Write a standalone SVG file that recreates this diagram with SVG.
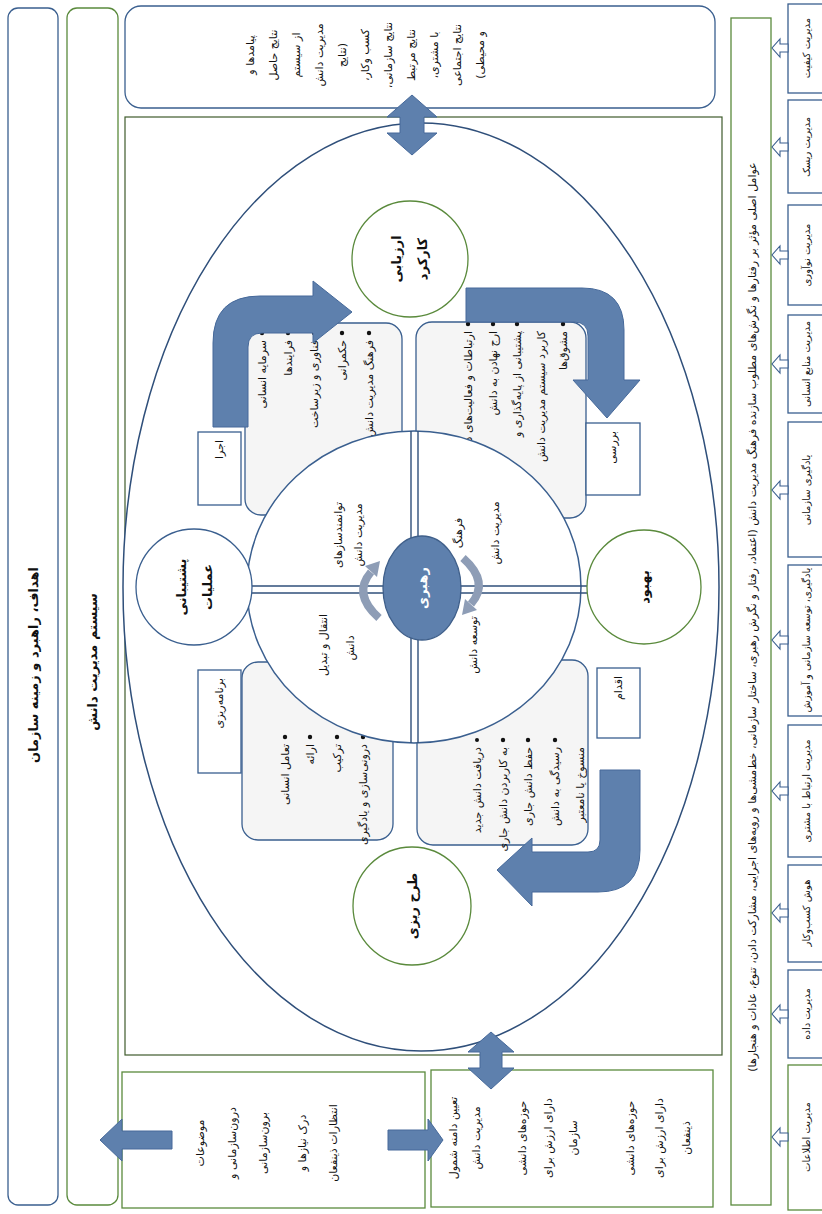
<svg xmlns="http://www.w3.org/2000/svg" width="822" height="1214" viewBox="0 0 822 1214">
<style>
.ft{font-family:"DejaVu Sans","Noto Sans",sans-serif;direction:rtl;dominant-baseline:central;fill:#111}
.b{font-weight:bold}
.bs{stroke:#3a5f8f;fill:#fff;stroke-width:1.3}
.gs{stroke:#5a8a3c;fill:#fff;stroke-width:1.3}
.qb{stroke:#3a5f8f;fill:#f5f5f5;stroke-width:1.3}
.arr{fill:#5e80ad;stroke:#46699a;stroke-width:1}
.gra{fill:none;stroke:#8e9db6;stroke-width:8}
.grh{fill:#8e9db6}
.dl{stroke:#2f4f7a;stroke-width:1.4}
.ch{fill:#fff;stroke:#3a5f8f;stroke-width:1.1}
.s11{font-size:11px}.s10{font-size:10px}.s12{font-size:12px}.s13{font-size:13px}
</style>
<rect width="822" height="1214" fill="#fff"/>

<g id="goals">
<rect x="8" y="8" width="50" height="1197" rx="10" class="bs"/>
<text class="ft b s13" transform="translate(33,665) rotate(-90)" text-anchor="middle">اهداف، راهبرد و زمینه سازمان</text>
</g>
<g id="kms">
<rect x="67" y="8" width="51" height="1197" rx="10" class="gs"/>
<text class="ft b s13" transform="translate(92,662) rotate(-90)" text-anchor="middle">سیستم مدیریت دانش</text>
</g>

<g id="outcomes">
<rect x="125" y="6" width="590" height="102" rx="16" class="bs"/>
<g class="ft s11" text-anchor="middle">
<text transform="translate(250,55) rotate(-90)">پیامدها و</text>
<text transform="translate(273,55) rotate(-90)">نتایج حاصل</text>
<text transform="translate(296,55) rotate(-90)">از سیستم</text>
<text transform="translate(319,55) rotate(-90)">مدیریت دانش</text>
<text transform="translate(342,55) rotate(-90)">(نتایج</text>
<text transform="translate(365,55) rotate(-90)">کسب وکار،</text>
<text transform="translate(388,55) rotate(-90)">نتایج سازمانی،</text>
<text transform="translate(411,55) rotate(-90)">نتایج مرتبط</text>
<text transform="translate(434,55) rotate(-90)">با مشتری،</text>
<text transform="translate(457,55) rotate(-90)">نتایج اجتماعی</text>
<text transform="translate(480,55) rotate(-90)">و محیطی)</text>
</g>
</g>

<g id="factors">
<rect x="731" y="18" width="40" height="1187" class="gs"/>
<text class="ft s11" transform="translate(752,617) rotate(-90)" text-anchor="middle">عوامل اصلی مؤثر بر رفتارها و نگرش‌های مطلوب سازنده فرهنگ مدیریت دانش (اعتماد، رفتار و نگرش رهبری، ساختار سازمانی، خط‌مشی‌ها و رویه‌های اجرایی، مشارکت دادن، تنوع، عادات و هنجارها)</text>
</g>

<g id="tools" class="ft s10" text-anchor="middle">
<g id="tool-quality"><rect x="788" y="4" width="40" height="89" class="bs"/><text transform="translate(806,48) rotate(-90)">مدیریت کیفیت</text></g>
<g id="tool-risk"><rect x="788" y="100" width="40" height="93" class="bs"/><text transform="translate(806,147) rotate(-90)">مدیریت ریسک</text></g>
<g id="tool-innovation"><rect x="788" y="205" width="40" height="100" class="bs"/><text transform="translate(806,255) rotate(-90)">مدیریت نوآوری</text></g>
<g id="tool-hr"><rect x="788" y="315" width="40" height="98" class="bs"/><text transform="translate(806,364) rotate(-90)">مدیریت منابع انسانی</text></g>
<g id="tool-ol"><rect x="788" y="422" width="40" height="135" class="bs"/><text transform="translate(806,490) rotate(-90)">یادگیری سازمانی</text></g>
<g id="tool-ld"><rect x="788" y="565" width="40" height="151" class="bs"/><text transform="translate(806,640) rotate(-90)">یادگیری، توسعه سازمانی و آموزش</text></g>
<g id="tool-crm"><rect x="788" y="725" width="40" height="132" class="bs"/><text transform="translate(806,791) rotate(-90)">مدیریت ارتباط با مشتری</text></g>
<g id="tool-bi"><rect x="788" y="865" width="40" height="97" class="bs"/><text transform="translate(806,913) rotate(-90)">هوش کسب‌وکار</text></g>
<g id="tool-data"><rect x="788" y="970" width="40" height="88" class="bs"/><text transform="translate(806,1014) rotate(-90)">مدیریت داده</text></g>
<g id="tool-info"><rect x="788" y="1065" width="40" height="145" class="gs"/><text transform="translate(806,1137) rotate(-90)">مدیریت اطلاعات</text></g>
</g>

<g id="inputs">
<rect x="122" y="1072" width="303" height="136" class="gs"/>
<g class="ft s11" text-anchor="middle">
<text transform="translate(200,1143) rotate(-90)">موضوعات</text>
<text transform="translate(232,1143) rotate(-90)">درون‌سازمانی و</text>
<text transform="translate(263,1143) rotate(-90)">برون‌سازمانی</text>
<text transform="translate(302,1143) rotate(-90)">درک نیازها و</text>
<text transform="translate(333,1143) rotate(-90)">انتظارات ذینفعان</text>
</g>
</g>

<g id="scope">
<rect x="431" y="1070" width="282" height="137" class="gs"/>
<g class="ft s11" text-anchor="middle">
<text transform="translate(453,1138) rotate(-90)">تعیین دامنه شمول</text>
<text transform="translate(476,1138) rotate(-90)">مدیریت دانش</text>
<text transform="translate(522,1138) rotate(-90)">حوزه‌های دانشی</text>
<text transform="translate(548,1138) rotate(-90)">دارای ارزش برای</text>
<text transform="translate(573,1138) rotate(-90)">سازمان</text>
<text transform="translate(630,1138) rotate(-90)">حوزه‌های دانشی</text>
<text transform="translate(659,1138) rotate(-90)">دارای ارزش برای</text>
<text transform="translate(686,1138) rotate(-90)">ذینفعان</text>
</g>
</g>

<g id="frame">
<rect x="125" y="117" width="597" height="938" fill="#fff" stroke="#3f5b2c" stroke-width="1.2"/>
<ellipse cx="421" cy="587" rx="298" ry="464" fill="#fff" stroke="#2f4f7a" stroke-width="1.5"/>
</g>

<g id="enablers-box">
<rect x="245" y="323" width="157" height="192" rx="16" class="qb"/>
<g fill="#111"><circle cx="262" cy="333" r="2.2"/><circle cx="288" cy="333" r="2.2"/><circle cx="314" cy="333" r="2.2"/><circle cx="342" cy="333" r="2.2"/><circle cx="369" cy="333" r="2.2"/></g>
<g class="ft s11" text-anchor="start">
<text transform="translate(262,340) rotate(-90)">سرمایه انسانی</text>
<text transform="translate(288,340) rotate(-90)">فرایندها</text>
<text transform="translate(314,340) rotate(-90)">فناوری و زیرساخت</text>
<text transform="translate(342,340) rotate(-90)">حکمرانی</text>
<text transform="translate(369,340) rotate(-90)">فرهنگ مدیریت دانش</text>
</g>
</g>

<g id="culture-box">
<rect x="416" y="322" width="170" height="196" rx="16" class="qb"/>
<g fill="#111"><circle cx="468" cy="324" r="2.2"/><circle cx="493" cy="324" r="2.2"/><circle cx="517" cy="324" r="2.2"/><circle cx="563" cy="324" r="2.2"/></g>
<g class="ft s11" text-anchor="start">
<text transform="translate(468,331) rotate(-90)">ارتباطات و فعالیت‌های دانش</text>
<text transform="translate(493,331) rotate(-90)">ارج نهادن به دانش</text>
<text transform="translate(517,331) rotate(-90)">پشتیبانی از پایه‌گذاری و</text>
<text transform="translate(541,331) rotate(-90)">کاربرد سیستم مدیریت دانش</text>
<text transform="translate(563,331) rotate(-90)">مشوق‌ها</text>
</g>
</g>

<g id="transfer-box">
<rect x="242" y="662" width="151" height="178" rx="16" class="qb"/>
<g fill="#111"><circle cx="285" cy="737" r="2.2"/><circle cx="310" cy="737" r="2.2"/><circle cx="337" cy="737" r="2.2"/><circle cx="363" cy="737" r="2.2"/></g>
<g class="ft s11" text-anchor="start">
<text transform="translate(285,744) rotate(-90)">تعامل انسانی</text>
<text transform="translate(310,744) rotate(-90)">ارائه</text>
<text transform="translate(337,744) rotate(-90)">ترکیب</text>
<text transform="translate(363,744) rotate(-90)">درونی‌سازی و یادگیری</text>
</g>
</g>

<g id="development-box">
<rect x="417" y="660" width="171" height="185" rx="16" class="qb"/>
<g fill="#111"><circle cx="477" cy="740" r="2"/><circle cx="503" cy="740" r="2.2"/><circle cx="528" cy="740" r="2.2"/><circle cx="555" cy="740" r="2.2"/></g>
<g class="ft s11" text-anchor="start">
<text transform="translate(477,747) rotate(-90)">دریافت دانش جدید</text>
<text transform="translate(503,747) rotate(-90)">به کاربردن دانش جاری</text>
<text transform="translate(528,747) rotate(-90)">حفظ دانش جاری</text>
<text transform="translate(555,747) rotate(-90)">رسیدگی به دانش</text>
<text transform="translate(580,747) rotate(-90)">منسوخ یا نامعتبر</text>
</g>
</g>

<g id="do-label"><rect x="198" y="432" width="43" height="73" class="bs"/><text class="ft s11" transform="translate(219,440) rotate(-90)" text-anchor="start">اجرا</text></g>
<g id="check-label"><rect x="586" y="423" width="54" height="72" class="bs"/><text class="ft s11" transform="translate(612,431) rotate(-90)" text-anchor="start">بررسی</text></g>
<g id="plan-label"><rect x="198" y="670" width="43" height="103" class="bs"/><text class="ft s11" transform="translate(219,678) rotate(-90)" text-anchor="start">برنامه‌ریزی</text></g>
<g id="act-label"><rect x="597" y="668" width="43" height="70" class="bs"/><text class="ft s11" transform="translate(618,676) rotate(-90)" text-anchor="start">اقدام</text></g>

<g id="core">
<ellipse cx="414" cy="587" rx="167" ry="156" fill="#fff" stroke="#3a5f8f" stroke-width="1.5"/>
<line x1="411" y1="431" x2="411" y2="743" class="dl"/>
<line x1="418" y1="431" x2="418" y2="743" class="dl"/>
<line x1="247" y1="586" x2="588" y2="586" class="dl"/>
<line x1="247" y1="593" x2="588" y2="593" class="dl"/>
<g class="ft s11" text-anchor="middle">
<text transform="translate(338,535) rotate(-90)">توانمندسازهای</text>
<text transform="translate(358,535) rotate(-90)">مدیریت دانش</text>
<text transform="translate(458,533) rotate(-90)">فرهنگ</text>
<text transform="translate(495,533) rotate(-90)">مدیریت دانش</text>
<text transform="translate(323,645) rotate(-90)">انتقال و تبدیل</text>
<text transform="translate(350,648) rotate(-90)">دانش</text>
<text transform="translate(473,645) rotate(-90)">توسعه دانش</text>
</g>
</g>

<g id="leadership">
<ellipse cx="422" cy="588" rx="39" ry="52" fill="#5e80ad" stroke="#3f5f8a" stroke-width="1.3"/>
<text class="ft b s13" transform="translate(422,588) rotate(-90)" text-anchor="middle" style="fill:#fff">رهبری</text>
</g>

<g id="evaluate">
<circle cx="410" cy="259" r="58" class="gs"/>
<g class="ft b s13" text-anchor="middle"><text transform="translate(396,259) rotate(-90)">ارزیابی</text><text transform="translate(422,259) rotate(-90)">کارکرد</text></g>
</g>
<g id="improve">
<circle cx="644" cy="587" r="57" class="gs"/>
<text class="ft b s13" transform="translate(644,587) rotate(-90)" text-anchor="middle">بهبود</text>
</g>
<g id="planning">
<circle cx="412" cy="906" r="59" class="gs"/>
<text class="ft b s13" transform="translate(412,906) rotate(-90)" text-anchor="middle">طرح ریزی</text>
</g>
<g id="ops-support">
<circle cx="194" cy="587" r="58" class="bs"/>
<g class="ft b s13" text-anchor="middle"><text transform="translate(181,587) rotate(-90)">پشتیبانی</text><text transform="translate(207,587) rotate(-90)">عملیات</text></g>
</g>

<g id="connectors">
<path class="arr" d="M213,427 L213,343 Q213,296 260,296 L313,296 L313,281 L352,312 L313,343 L313,333 L262,333 Q248,333 248,347 L248,427 Z"/>
<path class="arr" d="M466,288 L582,288 Q624,288 624,330 L624,380 L640,380 L607,418 L573,380 L588,380 L588,336 Q588,322 574,322 L466,322 Z"/>
<path class="arr" d="M600,770 L640,770 L640,850 Q640,892 598,892 L532,892 L532,906 L497,870 L532,838 L532,852 L588,852 Q600,852 600,840 Z"/>
<path class="gra" d="M463,558 Q490,582 471,604"/>
<polygon class="grh" points="477,610 465,599 462,615"/>
<path class="gra" d="M379,618 Q352,594 371,572"/>
<polygon class="grh" points="365,566 377,577 380,561"/>
<polygon class="arr" points="412,95 437,117 424,117 424,133 437,133 412,155 387,133 400,133 400,117 387,117"/>
<polygon class="arr" points="491,1032 514,1052 502,1052 502,1068 514,1068 491,1089 468,1068 480,1068 480,1052 468,1052"/>
<polygon class="arr" points="172,1131 122,1131 122,1119 100,1140 122,1161 122,1149 172,1149"/>
<polygon class="arr" points="388,1130 428,1130 428,1119 443,1140 428,1161 428,1150 388,1150"/>
<g id="tool-arrows">
<polygon class="ch" points="788,44 780,44 780,39 772,48 780,57 780,52 788,52"/>
<polygon class="ch" points="788,143 780,143 780,138 772,147 780,156 780,151 788,151"/>
<polygon class="ch" points="788,251 780,251 780,246 772,255 780,264 780,259 788,259"/>
<polygon class="ch" points="788,360 780,360 780,355 772,364 780,373 780,368 788,368"/>
<polygon class="ch" points="788,486 780,486 780,481 772,490 780,499 780,494 788,494"/>
<polygon class="ch" points="788,636 780,636 780,631 772,640 780,649 780,644 788,644"/>
<polygon class="ch" points="788,787 780,787 780,782 772,791 780,800 780,795 788,795"/>
<polygon class="ch" points="788,909 780,909 780,904 772,913 780,922 780,917 788,917"/>
<polygon class="ch" points="788,1010 780,1010 780,1005 772,1014 780,1023 780,1018 788,1018"/>
<polygon class="ch" points="788,1133 780,1133 780,1128 772,1137 780,1146 780,1141 788,1141"/>
</g>
</g>
</svg>
